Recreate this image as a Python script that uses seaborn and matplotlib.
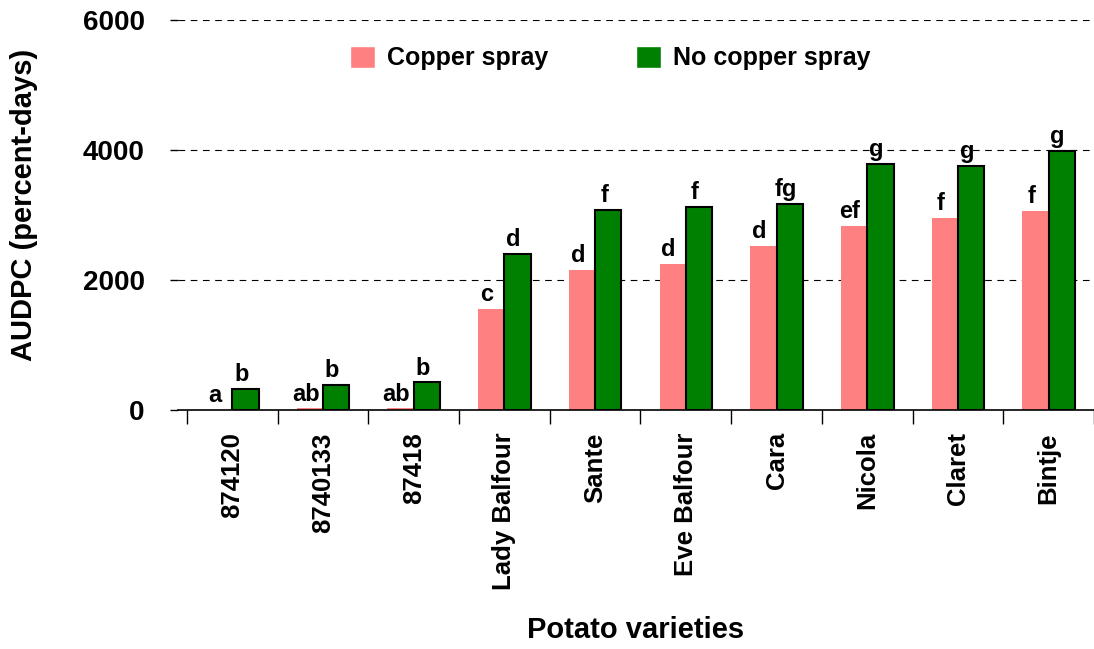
import matplotlib
matplotlib.use("Agg")
import matplotlib.pyplot as plt
import seaborn as sns
import pandas as pd
import numpy as np

varieties = ["874120", "8740133", "87418", "Lady Balfour", "Sante", "Eve Balfour",
             "Cara", "Nicola", "Claret", "Bintje"]
copper = [0, 25, 25, 1553, 2150, 2246, 2523, 2830, 2954, 3061]
no_copper = [320, 390, 425, 2400, 3077, 3123, 3170, 3785, 3754, 3990]
copper_letters = ["a", "ab", "ab", "c", "d", "d", "d", "ef", "f", "f"]
no_copper_letters = ["b", "b", "b", "d", "f", "f", "fg", "g", "g", "g"]
series = ["Copper spray", "No copper spray"]
yticks = [0, 2000, 4000, 6000]

df = pd.DataFrame({
    "variety": varieties * 2,
    "treatment": [series[0]] * len(varieties) + [series[1]] * len(varieties),
    "audpc": copper + no_copper,
})

sns.set_theme(style="white")
plt.rcParams["font.family"] = ["Liberation Sans", "DejaVu Sans"]
plt.rcParams["font.weight"] = "bold"
for k in ["text.color", "axes.labelcolor", "xtick.color", "ytick.color"]:
    plt.rcParams[k] = "black"

fig = plt.figure(figsize=(10.94, 6.49), dpi=100)
W, H = 1094, 649
left, right, top, bottom = 178, 1094, 20, 410
ax = fig.add_axes([left / W, 1 - bottom / H, (right - left) / W, (bottom - top) / H])

sns.barplot(data=df, x="variety", y="audpc", hue="treatment", order=varieties,
            hue_order=series, palette=["#FF8080", "#008000"], width=0.58,
            saturation=1, ax=ax, legend=True)

for p in ax.containers[0]:
    p.set_edgecolor("none")
for p in ax.containers[1]:
    p.set_edgecolor("black")
    p.set_linewidth(1.5)

# letters above bars
for cont, letters in zip(ax.containers, [copper_letters, no_copper_letters]):
    for bar, lab in zip(cont, letters):
        x = bar.get_x() + bar.get_width() / 2
        h = bar.get_height()
        ax.annotate(lab, (x, h), xytext=(-3, 2), textcoords="offset points",
                    ha="center", va="bottom", fontsize=17, fontweight="bold")

ax.set_ylim(0, 6000)
ax.set_yticks(yticks)
ax.set_yticklabels([str(v) for v in yticks], fontsize=20, fontweight="bold")
ax.set_xlim(-0.5 - 9 / 91, -0.5 - 9 / 91 + (right - left) / 91)
ax.set_xticks(range(len(varieties)))
ax.set_xticklabels(varieties, rotation=90, fontsize=18.5, fontweight="bold")
ax.tick_params(axis="x", length=0, pad=16)
ax.set_xticks(np.arange(len(varieties) + 1) - 0.5, minor=True)
ax.tick_params(axis="x", which="minor", length=10, width=1, color="black", direction="out", bottom=True)
ax.tick_params(axis="y", length=6, width=1, color="black", direction="out", left=True, pad=18)

for y in yticks[1:]:
    ax.axhline(y, color="black", linestyle=(0, (6, 5)), linewidth=0.8, zorder=0)

for s in ["top", "right", "left"]:
    ax.spines[s].set_visible(False)
ax.spines["bottom"].set_color("black")
ax.spines["bottom"].set_linewidth(1.2)

ax.set_ylabel("AUDPC (percent-days)", fontsize=21, fontweight="bold")
ax.yaxis.set_label_coords((38 - left) / (right - left), 0.526)
ax.set_xlabel("Potato varieties", fontsize=21, fontweight="bold")
ax.xaxis.set_label_coords(0.5, (bottom - 616) / (bottom - top))

handles, labels = ax.get_legend_handles_labels()
leg = ax.legend(handles, labels, loc="center", bbox_to_anchor=(0.472, (bottom - 58) / (bottom - top)),
                ncol=2, frameon=False, handlelength=1.0, handleheight=1.0,
                columnspacing=3.5, handletextpad=0.5, prop={"weight": "bold", "size": 18})

fig.savefig("out.png", dpi=100)
